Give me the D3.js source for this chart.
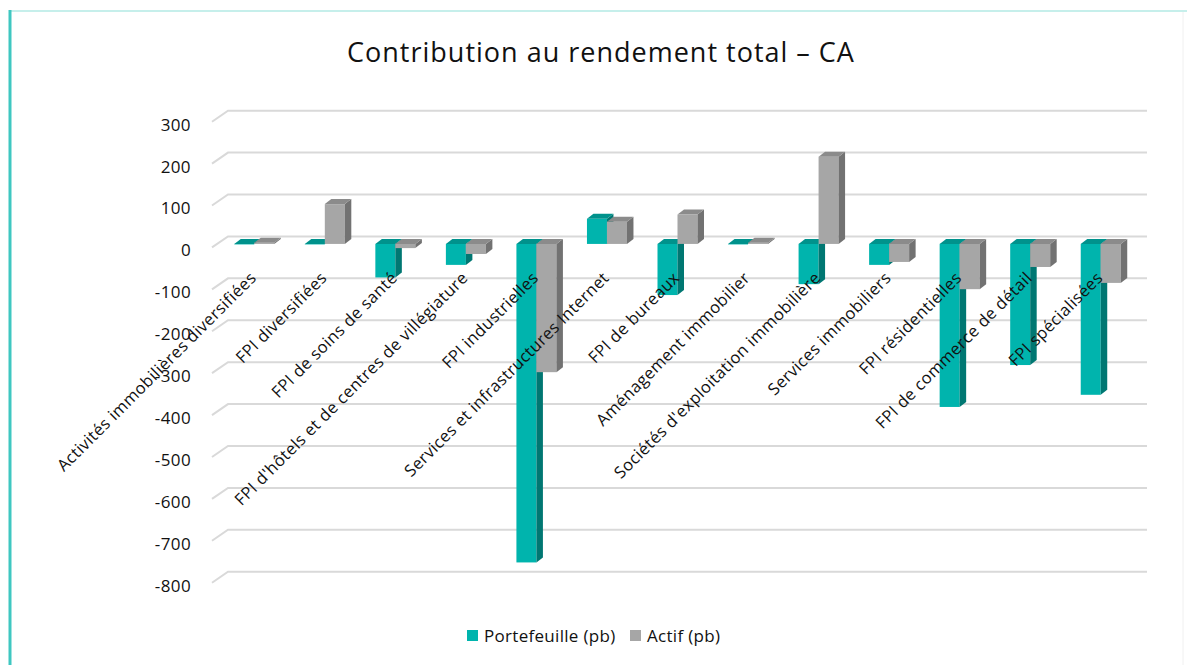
<!DOCTYPE html>
<html>
<head>
<meta charset="utf-8">
<script src="https://cdn.jsdelivr.net/npm/d3@7"></script>
<style>
  body { margin: 0; background: #fff; }
  svg { display: block; font-family: "Open Sans", sans-serif; }
</style>
</head>
<body>
<svg id="chart" width="1187" height="665"></svg>
<script>
var categories = [
    "Activités immobilières diversifiées",
    "FPI diversifiées",
    "FPI de soins de santé",
    "FPI d'hôtels et de centres de villégiature",
    "FPI industrielles",
    "Services et infrastructures Internet",
    "FPI de bureaux",
    "Aménagement immobilier",
    "Sociétés d'exploitation immobilière",
    "Services immobiliers",
    "FPI résidentielles",
    "FPI de commerce de détail",
    "FPI spécialisées"
];
var portefeuille = [0, 0, -80, -50, -760, 60, -122, 0, -96, -50, -389, -289, -360];
var actif = [3, 95, -10, -24, -306, 53, 70, 3, 208, -43, -108, -55, -93];
var yTicks = [300, 200, 100, 0, -100, -200, -300, -400, -500, -600, -700, -800];
var seriesNames = ["Portefeuille (pb)", "Actif (pb)"];

var colors = {
    teal: { front: "#00b4ad", top: "#00928c", side: "#007772" },
    gray: { front: "#a6a6a6", top: "#8b8b8b", side: "#727272" }
};

var svg = d3.select("#chart");

// bordure
svg.append("line").attr("x1", 9).attr("y1", 11).attr("x2", 1187).attr("y2", 11)
    .attr("stroke", "#c6efeb").attr("stroke-width", 2);
svg.append("line").attr("x1", 10).attr("y1", 10).attr("x2", 10).attr("y2", 665)
    .attr("stroke", "#3fc7c1").attr("stroke-width", 3);
svg.append("line").attr("x1", 1183).attr("y1", 12).attr("x2", 1183).attr("y2", 665)
    .attr("stroke", "#f0f0f0").attr("stroke-width", 1);

svg.append("text")
    .attr("x", 601).attr("y", 62)
    .attr("text-anchor", "middle")
    .style("font-size", "27px")
    .style("font-weight", 500)
    .style("letter-spacing", "1px")
    .style("fill", "#111")
    .text("Contribution au rendement total – CA");

// échelles (coordonnées du mur du fond)
var y = d3.scaleLinear().domain([300, -800]).range([110.7, 571.7]);
var x = d3.scaleBand().domain(categories).range([228, 1145]).padding(0);

// profondeur
var wallDx = -16, wallDy = 11;      // diagonale de la grille
var barDx = -9, barDy = 7.5;        // face avant des barres
var capDx = 6.5, capDy = -5;        // profondeur des barres
var barW = 20;

// grille
var grid = svg.append("g").attr("class", "grille");
yTicks.forEach(function (t) {
    var yy = y(t);
    grid.append("polyline")
        .attr("points", [[228 + wallDx, yy + wallDy], [228, yy], [1147, yy]].map(function (p) { return p.join(","); }).join(" "))
        .attr("fill", "none")
        .attr("stroke", "#d9d9d9")
        .attr("stroke-width", 2);
    grid.append("text")
        .attr("x", 191)
        .attr("y", yy + 14)
        .attr("dy", ".35em")
        .attr("text-anchor", "end")
        .style("font-size", "17px")
        .style("letter-spacing", "0.4px")
        .style("fill", "#111")
        .text(t);
});

function drawBar(g, x0, v, c) {
    var yz = y(0) + barDy, yv = y(v) + barDy;
    var top = Math.min(yz, yv), bot = Math.max(yz, yv);
    var h = bot - top;
    // face avant
    g.append("rect").attr("x", x0).attr("y", top).attr("width", barW).attr("height", Math.max(h, 0.5))
        .attr("fill", c.front);
    // face de côté
    g.append("polygon")
        .attr("points", [[x0 + barW, top], [x0 + barW + capDx, top + capDy], [x0 + barW + capDx, bot + capDy], [x0 + barW, bot]]
            .map(function (p) { return p.join(","); }).join(" "))
        .attr("fill", c.side);
    // dessus
    g.append("polygon")
        .attr("points", [[x0, top], [x0 + capDx, top + capDy], [x0 + barW + capDx, top + capDy], [x0 + barW, top]]
            .map(function (p) { return p.join(","); }).join(" "))
        .attr("fill", c.top);
}

var bars = svg.append("g").attr("class", "barres");
categories.forEach(function (cat, i) {
    var cx = x(cat) + x.bandwidth() / 2 + barDx;
    var g = bars.append("g");
    drawBar(g, cx - barW, portefeuille[i], colors.teal);
    drawBar(g, cx, actif[i], colors.gray);
});

// étiquettes de catégories
svg.append("g").selectAll("text")
    .data(categories)
    .enter().append("text")
    .attr("transform", function (d) {
        var cx = x(d) + x.bandwidth() / 2 + barDx;
        return "translate(" + (cx + 3) + "," + 279 + ") rotate(-45)";
    })
    .attr("text-anchor", "end")
    .style("font-size", "16.5px")
    .style("letter-spacing", "0.4px")
    .style("fill", "#111")
    .text(function (d) { return d; });

// légende
var legend = svg.append("g").attr("class", "legende");
var legendItems = [
    { name: seriesNames[0], color: colors.teal.front, x: 467 },
    { name: seriesNames[1], color: colors.gray.front, x: 630 }
];
legendItems.forEach(function (it) {
    legend.append("rect").attr("x", it.x).attr("y", 630).attr("width", 11).attr("height", 11).attr("fill", it.color);
    legend.append("text").attr("x", it.x + 17).attr("y", 636).attr("dy", ".35em")
        .style("font-size", "17px").style("letter-spacing", "0.3px")
        .style("fill", "#111").text(it.name);
});
</script>
</body>
</html>
